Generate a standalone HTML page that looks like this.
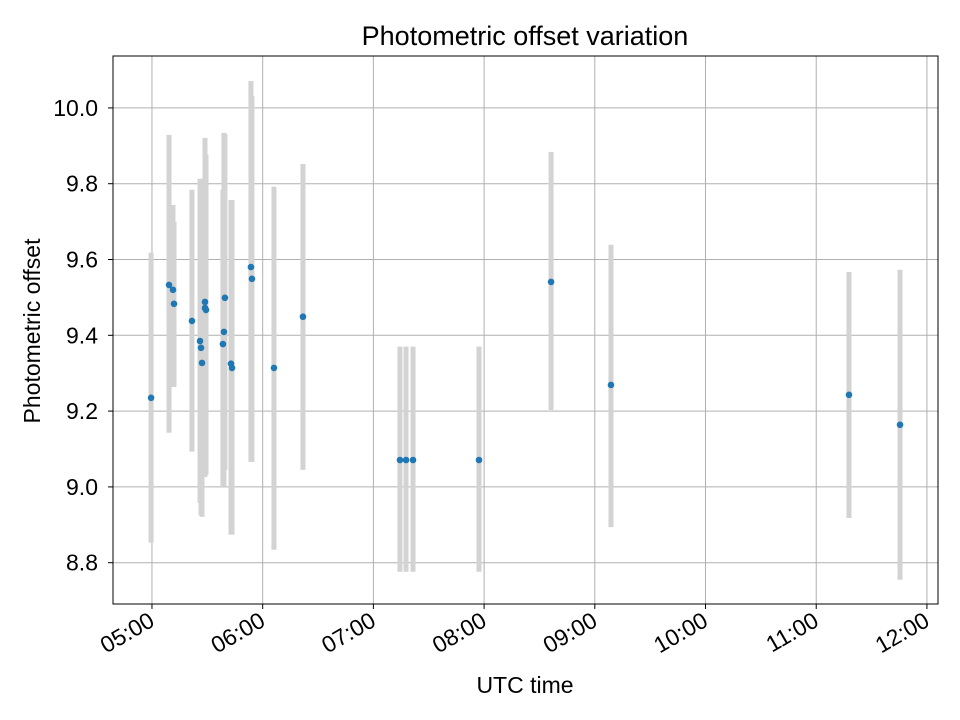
<!DOCTYPE html>
<html><head><meta charset="utf-8"><style>
html,body{margin:0;padding:0;background:#fff;}
svg{display:block;font-family:"Liberation Sans","DejaVu Sans",sans-serif;}
</style></head><body>
<svg id="chart" width="960" height="720">
<rect x="0" y="0" width="960" height="720" fill="#fff"/>
<g id="grid"></g>
<g id="bars"></g>
<g id="pts"></g>
<g id="axes"></g>
<text x="525" y="45" font-size="27" text-anchor="middle">Photometric offset variation</text>
<text x="525" y="693" font-size="23" text-anchor="middle">UTC time</text>
<text transform="translate(40,331) rotate(-90)" font-size="23" text-anchor="middle">Photometric offset</text>
</svg>
<script>
const times=[4.992,5.154,5.190,5.199,5.361,5.434,5.443,5.452,5.479,5.479,5.488,5.641,5.650,5.659,5.714,5.723,5.894,5.903,6.102,6.364,7.240,7.295,7.358,7.954,8.605,9.146,11.296,11.757];
const values=[9.235,9.533,9.520,9.483,9.438,9.385,9.367,9.327,9.488,9.472,9.467,9.377,9.409,9.499,9.325,9.314,9.580,9.549,9.314,9.449,9.071,9.071,9.071,9.071,9.541,9.269,9.243,9.164];
const upper=[9.618,9.929,9.744,9.699,9.784,9.813,9.758,9.805,9.921,9.876,9.876,9.784,9.934,9.931,9.757,9.757,10.071,10.032,9.792,9.852,9.370,9.370,9.370,9.370,9.884,9.639,9.567,9.573];
const lower=[8.853,9.143,9.264,9.264,9.093,8.958,8.926,8.921,9.026,9.053,9.032,9.000,9.000,9.045,8.874,8.874,9.066,9.066,8.834,9.045,8.776,8.776,8.776,8.776,9.203,8.894,8.918,8.755];
const xTicks=[5,6,7,8,9,10,11,12];
const xTickLabels=["05:00","06:00","07:00","08:00","09:00","10:00","11:00","12:00"];
const yTicks=[8.8,9.0,9.2,9.4,9.6,9.8,10.0];
const yTickLabels=["8.8","9.0","9.2","9.4","9.6","9.8","10.0"];

const L=113,R=938,T=56,B=604;
const x0=4.648,x1=12.100,y0=8.691,y1=10.137;
const xs=v=>L+(v-x0)/(x1-x0)*(R-L);
const ys=v=>B-(v-y0)/(y1-y0)*(B-T);
const NS="http://www.w3.org/2000/svg";
function mk(tag,attrs,parent){const e=document.createElementNS(NS,tag);for(const k in attrs)e.setAttribute(k,attrs[k]);parent.appendChild(e);return e;}
const grid=document.getElementById('grid'),bars=document.getElementById('bars'),pts=document.getElementById('pts'),axes=document.getElementById('axes');

xTicks.forEach((t,i)=>{
  const X=xs(t);
  const g=mk('line',{x1:X,x2:X,y1:T,y2:B,stroke:'#b0b0b0','stroke-width':1},grid);
  
  
  const tk=mk('line',{x1:X,x2:X,y1:B,y2:B+5,stroke:'#000','stroke-width':1},axes);
  
  
  const lb=mk('text',{transform:`translate(${X+4},${B+21}) rotate(-30)`,'font-size':23,'text-anchor':'end'},axes);
  lb.textContent=xTickLabels[i];
  
  
});
yTicks.forEach((t,i)=>{
  const Y=ys(t);
  const g=mk('line',{x1:L,x2:R,y1:Y,y2:Y,stroke:'#b0b0b0','stroke-width':1},grid);
  
  
  const tk=mk('line',{x1:L-5,x2:L,y1:Y,y2:Y,stroke:'#000','stroke-width':1},axes);
  
  
  const lb=mk('text',{x:L-15,y:Y+8,'font-size':23,'text-anchor':'end'},axes);
  lb.textContent=yTickLabels[i];
  
  
});
const frame=mk('rect',{x:L,y:T,width:R-L,height:B-T,fill:'none',stroke:'#000','stroke-width':1},axes);



times.forEach((t,i)=>{
  const X=xs(t);
  const b=mk('line',{x1:X,x2:X,y1:ys(upper[i]),y2:ys(lower[i]),stroke:'#d3d3d3','stroke-width':5},bars);
  
  
});
times.forEach((t,i)=>{
  const c=mk('circle',{cx:xs(t),cy:ys(values[i]),r:3.3,fill:'#1f77b4'},pts);
  
  
});
</script>
</body></html>
